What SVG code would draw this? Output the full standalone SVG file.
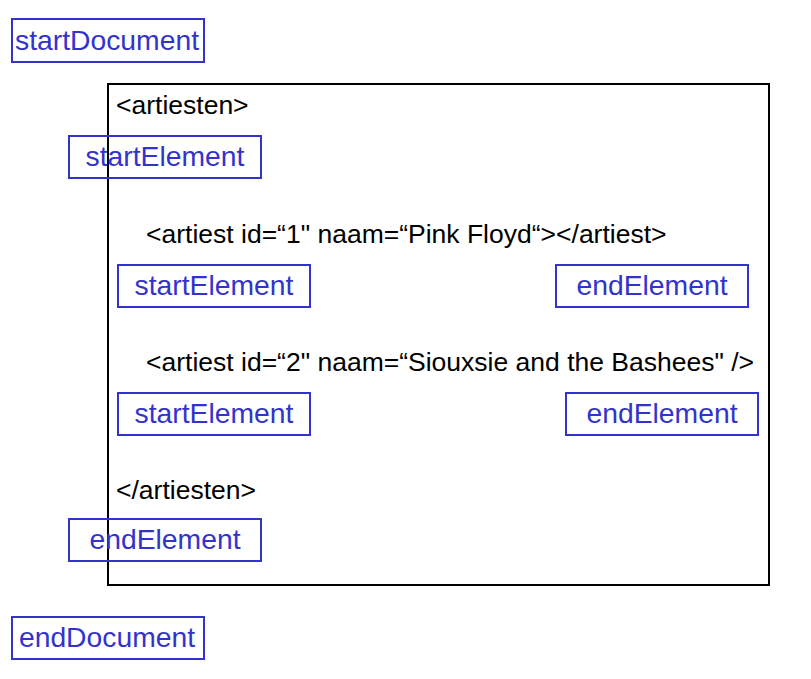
<svg xmlns="http://www.w3.org/2000/svg" width="811" height="679" viewBox="0 0 811 679">
<style>
.ev rect{fill:none;stroke:#3333cc;stroke-width:2}
.ev text{font-family:"Liberation Sans",Arial,sans-serif;font-size:28.3px;fill:#3333cc;text-anchor:middle}
.xml{font-family:"Liberation Sans",Arial,sans-serif;font-size:26.5px;fill:#000}
</style>
<rect width="811" height="679" fill="#fff"/>
<g id="document-box"><rect x="108" y="84" width="661" height="501" fill="none" stroke="#000" stroke-width="2"/></g>
<g id="xml-text">
<text class="xml" x="116" y="114">&lt;artiesten&gt;</text>
<text class="xml" x="146" y="243">&lt;artiest id=“1" naam=“Pink Floyd“&gt;&lt;/artiest&gt;</text>
<text class="xml" x="146" y="371">&lt;artiest id=“2" naam=“Siouxsie and the Bashees" /&gt;</text>
<text class="xml" x="116" y="499">&lt;/artiesten&gt;</text>
</g>
<g id="startDocument" class="ev"><rect x="12" y="19" width="192" height="43"/><text x="107" y="50">startDocument</text></g>
<g id="startElement1" class="ev"><rect x="69" y="136" width="192" height="42"/><text x="165" y="166">startElement</text></g>
<g id="startElement2" class="ev"><rect x="118" y="265" width="192" height="42"/><text x="214" y="295">startElement</text></g>
<g id="endElement2" class="ev"><rect x="556" y="265" width="192" height="42"/><text x="652" y="295">endElement</text></g>
<g id="startElement3" class="ev"><rect x="118" y="393" width="192" height="42"/><text x="214" y="423">startElement</text></g>
<g id="endElement3" class="ev"><rect x="566" y="393" width="192" height="42"/><text x="662" y="423">endElement</text></g>
<g id="endElement1" class="ev"><rect x="69" y="519" width="192" height="42"/><text x="165" y="549">endElement</text></g>
<g id="endDocument" class="ev"><rect x="12" y="617" width="192" height="42"/><text x="107" y="647">endDocument</text></g>
<g id="connectors"></g>
</svg>
